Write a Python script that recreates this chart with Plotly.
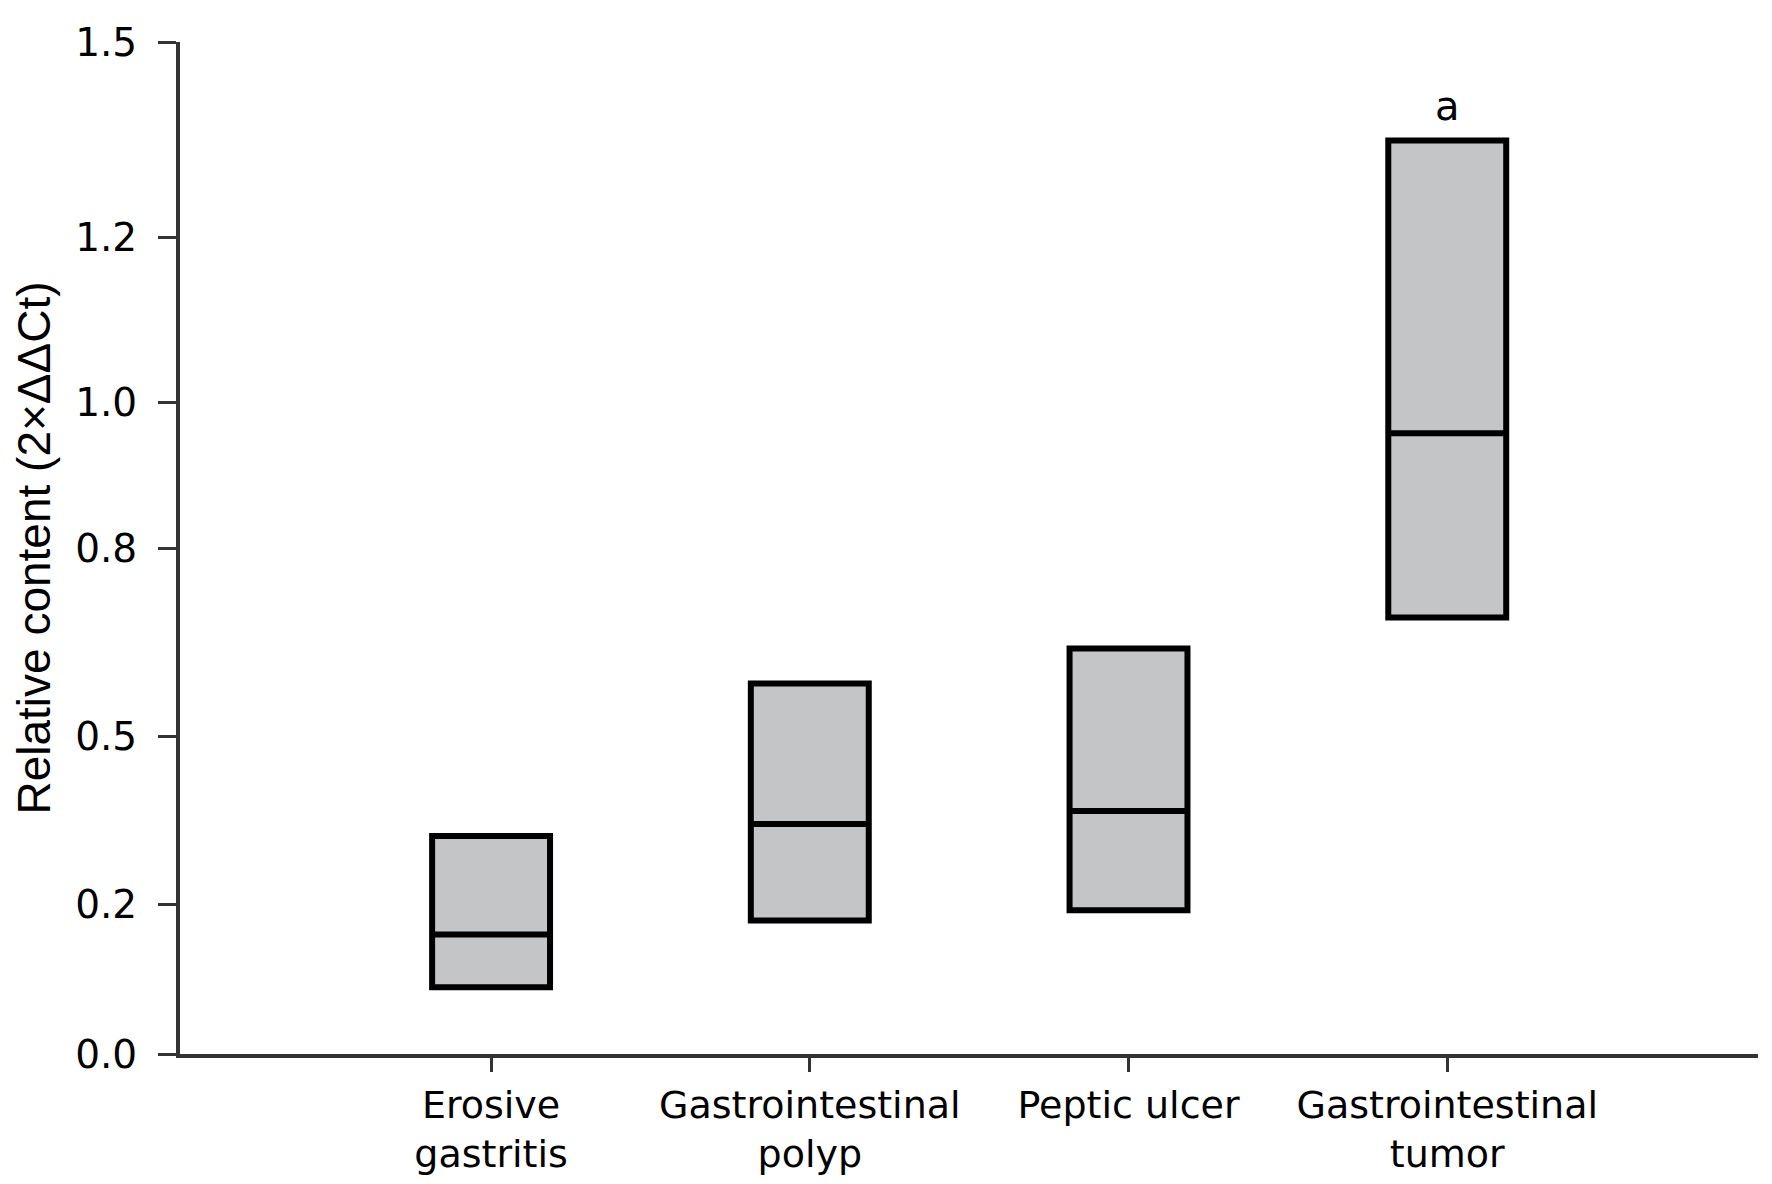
import plotly.graph_objects as go

# Box summaries (axis units)
categories = ["Erosive<br>gastritis", "Gastrointestinal<br>polyp",
              "Peptic ulcer", "Gastrointestinal<br>tumor"]
q1 = [0.099, 0.198, 0.213, 0.647]
median = [0.177, 0.341, 0.360, 0.920]
q3 = [0.323, 0.549, 0.601, 1.354]

# Y tick positions and their printed labels
tick_vals = [0, 0.2215, 0.471, 0.750, 0.9656, 1.2107, 1.5]
tick_text = ["0.0", "0.2", "0.5", "0.8", "1.0", "1.2", "1.5"]

fig = go.Figure(go.Box(
    x=categories, q1=q1, median=median, q3=q3,
    lowerfence=q1, upperfence=q3,
    fillcolor="#c4c5c7",
    line=dict(color="black", width=6),
    width=0.37, whiskerwidth=0,
    boxpoints=False, hoverinfo="skip",
))

# Significance mark over the tumor group
fig.add_annotation(x=categories[3], y=q3[3], text="a", showarrow=False,
                   yanchor="bottom", yshift=10,
                   font=dict(family="DejaVu Sans", size=40, color="black"))

fig.update_layout(
    width=1772, height=1184,
    margin=dict(l=172, r=22, t=30, b=138),
    plot_bgcolor="white", paper_bgcolor="white",
    showlegend=False,
    xaxis=dict(
        range=[-0.976, 3.975],
        showline=True, linecolor="#333", linewidth=4,
        ticks="outside", ticklen=14, tickwidth=3, tickcolor="#333",
        showgrid=False, zeroline=False,
        tickfont=dict(family="DejaVu Sans", size=38, color="black"),
    ),
    yaxis=dict(
        range=[0, 1.5],
        tickvals=tick_vals, ticktext=tick_text,
        showline=True, linecolor="#333", linewidth=4,
        ticks="outside", ticklen=18, tickwidth=3, tickcolor="#333",
        ticklabelstandoff=13,
        showgrid=False, zeroline=False,
        tickfont=dict(family="DejaVu Sans", size=39, color="black"),
        title=dict(text="Relative content (2×ΔΔCt)", standoff=12,
                   font=dict(family="Liberation Sans", size=46, color="black")),
    ),
)

fig.write_html("out.html")
